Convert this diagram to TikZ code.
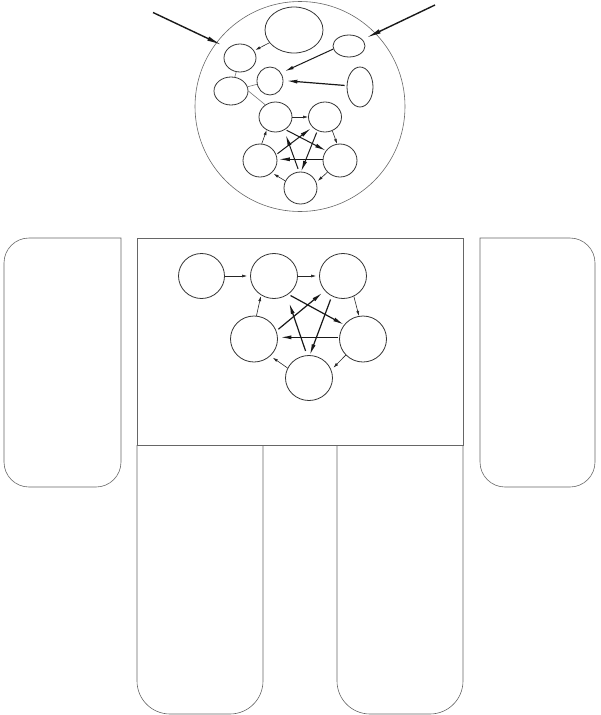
\documentclass[tikz,border=0pt]{standalone}
\usetikzlibrary{shapes.geometric,arrows.meta}
\begin{document}
\begin{tikzpicture}[x=1pt,y=-1pt,
  oval/.style={ellipse,draw=black!80,line width=0.8pt,inner sep=0pt},
  limb/.style={draw=black!60,line width=0.6pt},
  link/.style={draw=black!55,line width=0.6pt},
  lightarrow/.style={draw=black!85,line width=0.6pt,-{Latex[length=5pt,width=3pt]}},
  midarrow/.style={draw=black!90,line width=1pt,-{Latex[length=9pt,width=3.5pt]}},
  heavyarrow/.style={draw=black!90,line width=1.2pt,-{Latex[length=11pt,width=4pt]}},
  bigarrow/.style={draw=black!90,line width=1.4pt,-{Latex[length=15pt,width=4.5pt]}}
]
\useasboundingbox (0,0) rectangle (600,715);

% ---------- body outline ----------
\draw[limb] (300,106.5) circle[radius=105];
\draw[limb] (137,238) rectangle (463,445);
\draw[limb,rounded corners=25pt,line cap=rect] (121,238) -- (4,238) -- (4,487) -- (121,487) -- (121,238);
\draw[limb,rounded corners=25pt,line cap=rect] (480,238) -- (595,238) -- (595,487) -- (480,487) -- (480,238);
\draw[limb,rounded corners=33pt] (137,445) -- (137,714) -- (263,714) -- (263,445);
\draw[limb,rounded corners=33pt] (337,445) -- (337,714) -- (463,714) -- (463,445);

% ---------- head nodes ----------
\node[oval,minimum width=58pt,minimum height=46pt] (h1) at (294,30) {};
\node[oval,minimum width=32pt,minimum height=28pt] (h2) at (240,58) {};
\node[oval,minimum width=32pt,minimum height=22pt] (h3) at (349,46) {};
\node[oval,minimum width=26pt,minimum height=28pt] (h4) at (270,81) {};
\node[oval,minimum width=34pt,minimum height=28pt] (h5) at (231,91) {};
\node[oval,minimum width=26pt,minimum height=40pt] (h6) at (360,87) {};
\node[oval,minimum width=33pt,minimum height=30pt] (p1) at (275.5,117) {};
\node[oval,minimum width=33pt,minimum height=30pt] (p2) at (325,117) {};
\node[oval,minimum width=34pt,minimum height=33pt] (p3) at (260,160.5) {};
\node[oval,minimum width=34pt,minimum height=33pt] (p4) at (340,160.5) {};
\node[oval,minimum width=33pt,minimum height=32pt] (p5) at (300.5,188) {};

\coordinate (s1) at (153,12.5);
\coordinate (s2) at (435,5);

% head connectors
\draw[bigarrow,shorten >=7pt] (s1) -- (h2.140);
\draw[bigarrow,shorten >=4pt] (s2) -- (h3);
\draw[lightarrow,shorten >=1.5pt] (h1) -- (h2);
\draw[midarrow,shorten >=4pt] (h3.191) -- (h4.36);
\draw[heavyarrow,shorten <=2pt,shorten >=3pt] (h6.174) -- (h4.2);
\draw[link] (h2) -- (h5);
\draw[link] (h5) -- (h4);
\draw[link] (h5.east) -- (p1.130);

% head pentagon
\draw[lightarrow] (p1) -- (p2);
\draw[lightarrow] (p2.-62) -- (p4.100);
\draw[lightarrow,shorten >=2pt] (p4.223) -- (p5.20);
\draw[lightarrow,shorten >=2pt] (p5.155) -- (p3.-46);
\draw[lightarrow] (p3.84) -- (p1.236);
\draw[heavyarrow,line width=1pt,shorten <=1.5pt] (p1.-52) -- (p4.145);
\draw[heavyarrow,line width=1pt,shorten <=1.5pt,shorten >=2pt] (p3.20) -- (p2.219);
\draw[heavyarrow,line width=1pt,shorten >=1.5pt] (p4.176) -- (p3.4);
\draw[heavyarrow,line width=1pt,shorten <=3pt,shorten >=5pt] (p5.95) -- (p1.-57);
\draw[heavyarrow,line width=1pt,shorten <=2pt] (p2.241) -- (p5.88);

% ---------- torso nodes ----------
\node[oval,minimum width=46pt,minimum height=45pt] (A) at (201.5,276) {};
\node[oval,minimum width=47pt,minimum height=45pt] (B) at (274,276) {};
\node[oval,minimum width=47pt,minimum height=45pt] (C) at (343,276) {};
\node[oval,minimum width=47pt,minimum height=46pt] (D) at (254,339) {};
\node[oval,minimum width=47pt,minimum height=46pt] (E) at (363,339) {};
\node[oval,minimum width=47pt,minimum height=45pt] (F) at (309,378) {};

\draw[lightarrow,shorten >=3pt] (A) -- (B);
\draw[lightarrow,shorten >=3pt] (B) -- (C);
\draw[lightarrow] (C.-62) -- (E.100);
\draw[lightarrow,shorten >=3pt] (E.223) -- (F.20);
\draw[lightarrow,shorten >=3pt] (F.155) -- (D.-46);
\draw[lightarrow,shorten >=1pt] (D.84) -- (B.236);
\draw[heavyarrow,shorten <=2.5pt] (B.-52) -- (E.143);
\draw[heavyarrow,shorten <=2.5pt,shorten >=3pt] (D.20) -- (C.219);
\draw[heavyarrow,shorten <=1pt,shorten >=2.5pt] (E.176) -- (D.4);
\draw[heavyarrow,shorten <=4.5pt,shorten >=8pt] (F.95) -- (B.-57);
\draw[heavyarrow,shorten <=3.5pt] (C.241) -- (F.88);
\end{tikzpicture}
\end{document}
